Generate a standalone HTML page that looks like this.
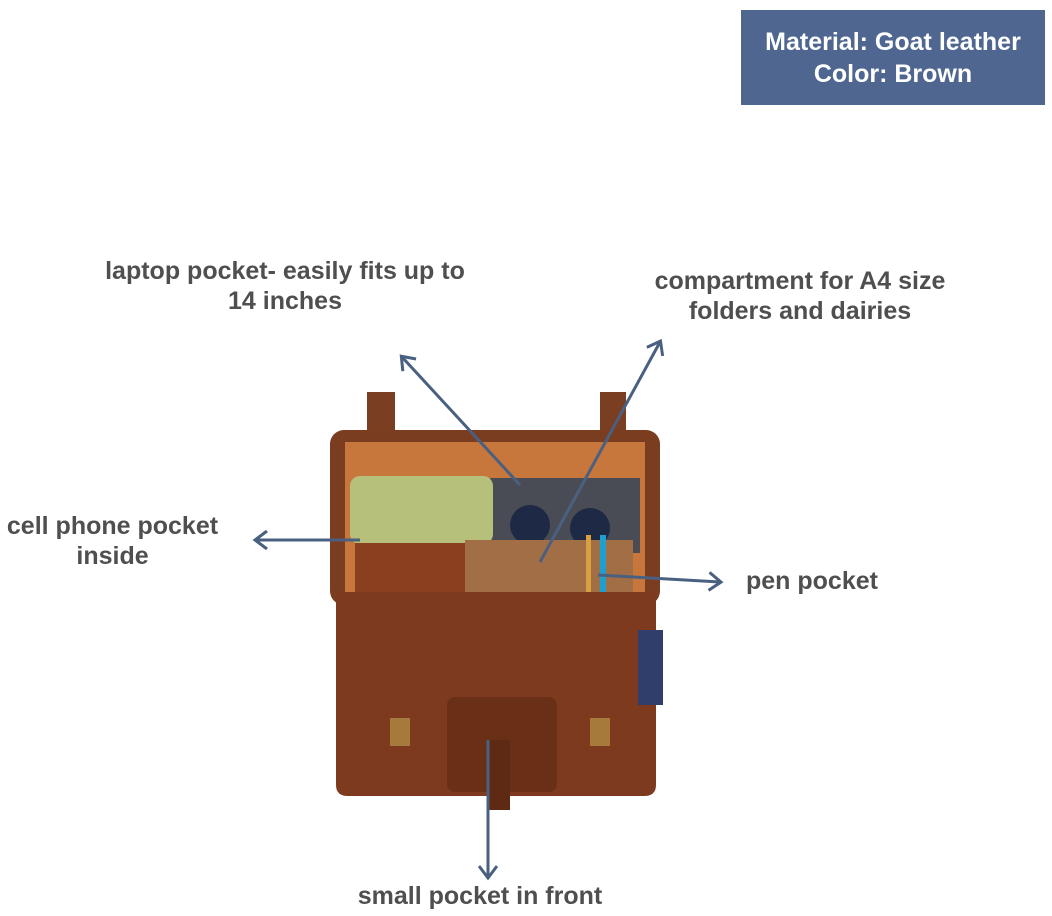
<!DOCTYPE html>
<html><head><meta charset="utf-8"><style>
html,body{margin:0;padding:0;background:#fff;}
body{width:1052px;height:916px;position:relative;overflow:hidden;font-family:"Liberation Sans",sans-serif;}
.box{position:absolute;left:741px;top:10px;width:304px;height:95px;background:#4f6690;color:#fff;font-size:25px;font-weight:bold;text-align:center;line-height:32px;padding-top:16px;box-sizing:border-box;}
.lbl{position:absolute;color:#4f4f4f;font-size:25px;font-weight:bold;text-align:center;line-height:30px;white-space:nowrap;}
svg{position:absolute;left:0;top:0;}
</style></head><body>
<div class="box">Material: Goat leather<br>Color: Brown</div>
<div class="lbl" style="left:60px;top:256px;width:450px;">laptop pocket- easily fits up to<br>14 inches</div>
<div class="lbl" style="left:610px;top:266px;width:380px;">compartment for A4 size<br>folders and dairies</div>
<div class="lbl" style="left:-10px;top:511px;width:245px;">cell phone pocket<br>inside</div>
<div class="lbl" style="left:732px;top:566px;width:160px;">pen pocket</div>
<div class="lbl" style="left:320px;top:881px;width:320px;">small pocket in front</div>
<svg width="1052" height="916" viewBox="0 0 1052 916">
<defs><marker id="a" markerWidth="16" markerHeight="20" refX="12" refY="10" orient="auto" markerUnits="userSpaceOnUse"><path d="M1,1 L13,10 L1,19" fill="none" stroke="#4a6080" stroke-width="3"/></marker></defs>
<rect x="367" y="392" width="28" height="70" fill="#7a3e22"/>
<rect x="600" y="392" width="26" height="70" fill="#7a3e22"/>
<rect x="330" y="430" width="330" height="175" rx="14" fill="#7b3d20"/>
<rect x="345" y="442" width="300" height="150" fill="#c7773c"/>
<rect x="490" y="478" width="150" height="75" fill="#4a4c55"/>
<rect x="350" y="476" width="143" height="68" rx="10" fill="#b7c07a"/>
<circle cx="530" cy="525" r="20" fill="#1e2a45"/><circle cx="590" cy="528" r="20" fill="#1e2a45"/>
<rect x="355" y="543" width="112" height="58" fill="#8a3f1e"/>
<rect x="465" y="540" width="168" height="62" fill="#a26e45"/>
<rect x="586" y="535" width="5" height="65" fill="#d9a040"/>
<rect x="600" y="535" width="6" height="65" fill="#1e9fd0"/>
<path d="M336,592 L656,592 L656,785 Q656,796 644,796 L348,796 Q336,796 336,785 Z" fill="#7d3a1f"/>
<rect x="447" y="697" width="110" height="95" rx="8" fill="#6a2f17"/>
<rect x="488" y="740" width="22" height="70" fill="#5e2a14"/>
<rect x="390" y="718" width="20" height="28" fill="#a57a3a"/>
<rect x="590" y="718" width="20" height="28" fill="#a57a3a"/>
<rect x="638" y="630" width="25" height="75" fill="#2f3e6a"/>
<g stroke="#4a6080" stroke-width="3" fill="none">
<line x1="520" y1="485" x2="402" y2="357" marker-end="url(#a)"/>
<line x1="540" y1="562" x2="660" y2="342" marker-end="url(#a)"/>
<line x1="360" y1="540" x2="256" y2="540" marker-end="url(#a)"/>
<line x1="598" y1="575" x2="720" y2="582" marker-end="url(#a)"/>
<line x1="488" y1="740" x2="488" y2="877" marker-end="url(#a)"/>
</g>
</svg>
</body></html>
